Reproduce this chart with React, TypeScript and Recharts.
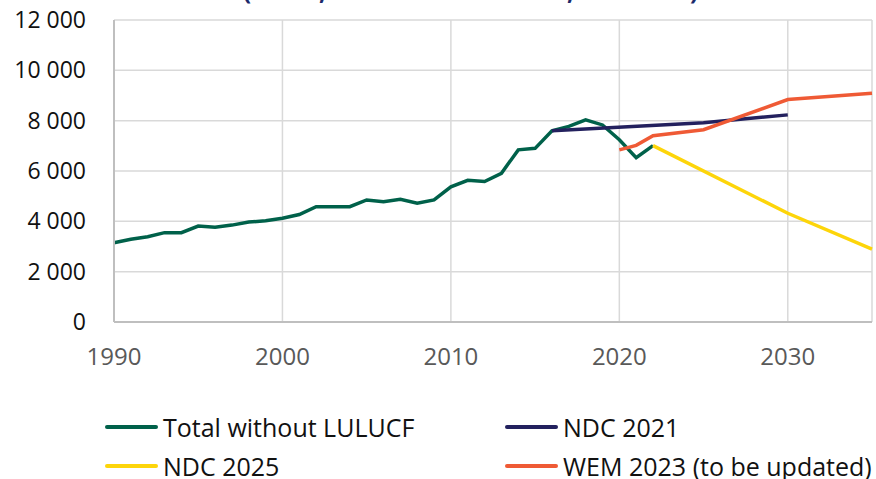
import React from "react";
import { LineChart, Line, XAxis, YAxis, CartesianGrid, Legend } from "recharts";

const years: number[] = [];
for (let y = 1990; y <= 2035; y++) years.push(y);

const totalYears = [1990,1991,1992,1993,1994,1995,1996,1997,1998,1999,2000,2001,2002,2003,2004,2005,2006,2007,2008,2009,2010,2011,2012,2013,2014,2015,2016,2017,2018,2019,2020,2021,2022];
const totalValues = [3150,3290,3390,3550,3550,3810,3770,3850,3970,4020,4120,4270,4580,4580,4580,4850,4780,4880,4720,4850,5370,5630,5580,5910,6840,6900,7600,7770,8030,7830,7240,6530,7010];

const ndc2021Years = [2016, 2025, 2030];
const ndc2021Values = [7600, 7920, 8230];

const ndc2025Years = [2022, 2030, 2035];
const ndc2025Values = [7010, 4320, 2900];

const wemYears = [2020, 2021, 2022, 2025, 2030, 2035];
const wemValues = [6840, 7020, 7400, 7640, 8840, 9090];

const xTicks = [1990, 2000, 2010, 2020, 2030];
const yTicks = [0, 2000, 4000, 6000, 8000, 10000, 12000];

const seriesNames = {
  total: "Total without LULUCF",
  ndc2021: "NDC 2021",
  ndc2025: "NDC 2025",
  wem: "WEM 2023 (to be updated)",
};
const legendOrder = [seriesNames.total, seriesNames.ndc2021, seriesNames.ndc2025, seriesNames.wem];

const pick = (ys: number[], vs: number[], y: number) => {
  const i = ys.indexOf(y);
  return i >= 0 ? vs[i] : null;
};

const data = years.map((y) => ({
  year: y,
  total: pick(totalYears, totalValues, y),
  ndc2021: pick(ndc2021Years, ndc2021Values, y),
  ndc2025: pick(ndc2025Years, ndc2025Values, y),
  wem: pick(wemYears, wemValues, y),
}));

const FONT = "'Open Sans', sans-serif";

const fmt = (v: number) => {
  const s = String(v);
  return s.length > 3 ? s.slice(0, s.length - 3) + " " + s.slice(-3) : s;
};

const LegendContent = (props: any) => {
  const payload = [...(props.payload || [])].sort(
    (a: any, b: any) => legendOrder.indexOf(a.value) - legendOrder.indexOf(b.value)
  );
  return (
    <div style={{ position: "relative", width: 876, height: 80 }}>
      {payload.map((p: any, i: number) => {
        const col = i % 2;
        const row = Math.floor(i / 2);
        return (
          <div
            key={i}
            style={{
              position: "absolute",
              left: 105 + col * 400,
              top: row * 39,
              height: 36,
              display: "flex",
              alignItems: "center",
              whiteSpace: "nowrap",
            }}
          >
            <div style={{ width: 53, height: 4, borderRadius: 2, background: p.color, marginRight: 5 }} />
            <span style={{ fontFamily: FONT, fontSize: 25, color: "#111" }}>{p.value}</span>
          </div>
        );
      })}
    </div>
  );
};

export default function App() {
  return (
    <div style={{ position: "absolute", left: 0, top: 0, width: 876, height: 479, background: "#fff", overflow: "hidden" }}>
      <svg width={876} height={20} style={{ position: "absolute", left: 0, top: 0 }}>
        <text y={0} fill="#1b2a6b" fontFamily={FONT} fontWeight={700} fontSize={24}>
          <tspan x={243}>(</tspan>
          <tspan x={319}>,</tspan>
          <tspan x={567}>,</tspan>
          <tspan x={690}>)</tspan>
        </text>
      </svg>
      <div style={{ position: "absolute", left: 0, top: 0 }}>
        <LineChart width={876} height={479} data={data} margin={{ top: 20, right: 4, left: 0, bottom: 117 }}>
          <CartesianGrid stroke="#d9d9d9" strokeWidth={1.5} />
          <XAxis
            dataKey="year"
            type="number"
            domain={[1990, 2035]}
            ticks={xTicks}
            interval={0}
            height={40}
            tickSize={0}
            tickMargin={26}
            axisLine={{ stroke: "#bfbfbf", strokeWidth: 2 }}
            tickLine={false}
            tick={{ fill: "#595959", fontSize: 24, fontFamily: FONT }}
          />
          <YAxis
            type="number"
            domain={[0, 12000]}
            ticks={yTicks}
            interval={0}
            width={114}
            tickSize={0}
            tickMargin={28}
            tickFormatter={fmt}
            axisLine={{ stroke: "#bfbfbf", strokeWidth: 2 }}
            tickLine={false}
            tick={{ fill: "#111", fontSize: 23, fontFamily: FONT }}
          />
          <Legend
            layout="horizontal"
            verticalAlign="middle"
            align="center"
            wrapperStyle={{ top: 409, left: 0, width: 876 }}
            content={<LegendContent />}
          />
          <Line type="linear" dataKey="total" name={seriesNames.total} stroke="#00614a" strokeWidth={3.5} dot={false} isAnimationActive={false} />
          <Line type="linear" dataKey="ndc2021" name={seriesNames.ndc2021} stroke="#23215e" strokeWidth={3.5} dot={false} connectNulls isAnimationActive={false} />
          <Line type="linear" dataKey="ndc2025" name={seriesNames.ndc2025} stroke="#fdd50a" strokeWidth={3.5} dot={false} connectNulls isAnimationActive={false} />
          <Line type="linear" dataKey="wem" name={seriesNames.wem} stroke="#ef5a35" strokeWidth={3.5} dot={false} connectNulls isAnimationActive={false} />
        </LineChart>
      </div>
    </div>
  );
}
